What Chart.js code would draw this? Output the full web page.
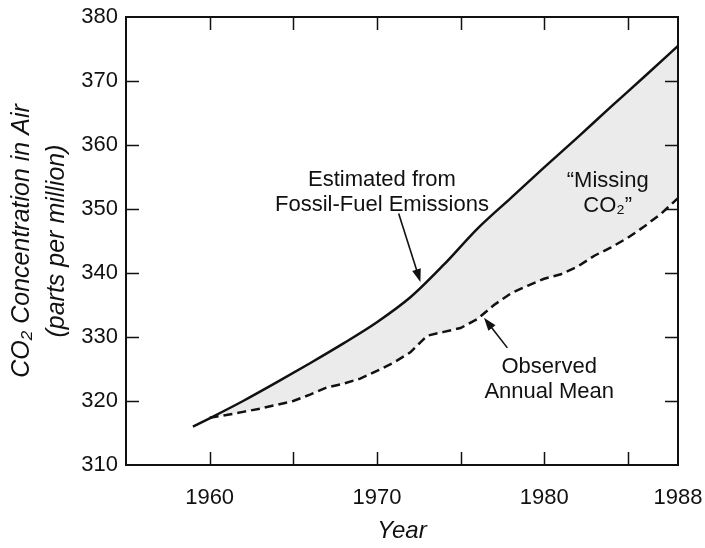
<!DOCTYPE html>
<html>
<head>
<meta charset="utf-8">
<script src="https://cdn.jsdelivr.net/npm/chart.js@4"></script>
<style>
  html, body { margin: 0; padding: 0; background: #fff; }
  #wrap { width: 705px; height: 548px; }
</style>
</head>
<body>
<div id="wrap"><canvas id="co2Chart"></canvas></div>
<script>
// values
const estimatedYears = [1959, 1960, 1962, 1964, 1966, 1968, 1970, 1972, 1974, 1976, 1978, 1980, 1982, 1984, 1986, 1988];
const estimatedCO2 = [316.0, 317.3, 320.0, 322.9, 325.9, 329.0, 332.3, 336.2, 341.3, 346.9, 351.7, 356.5, 361.2, 366.0, 370.7, 375.5];

const observedYears = [1960, 1961, 1962, 1963, 1964, 1965, 1966, 1967, 1968, 1969, 1970, 1971, 1972, 1973, 1974,
  1975, 1976, 1977, 1978, 1979, 1980, 1981, 1982, 1983, 1984, 1985, 1986, 1987, 1988];
const observedCO2 = [317.4, 317.8, 318.3, 318.8, 319.4, 320.0, 321.0, 322.1, 322.7, 323.5, 324.7, 326.0, 327.6, 330.2, 330.8,
  331.4, 332.8, 335.0, 336.8, 338.0, 339.1, 339.8, 341.0, 342.7, 344.0, 345.5, 347.3, 349.3, 351.7];

const xTickLabels = [1960, 1970, 1980, 1988];
const xTickMarks = [1960, 1965, 1970, 1975, 1980, 1985];
const yTickValues = [310, 320, 330, 340, 350, 360, 370, 380];

const FONT = '"Liberation Sans", Arial, Helvetica, sans-serif';
Chart.defaults.font.family = FONT;
Chart.defaults.color = '#111';

const ctx = document.getElementById('co2Chart');

function arrow(c, x1, y1, x2, y2) {
  const ang = Math.atan2(y2 - y1, x2 - x1);
  const len = 13, half = 4.5;
  c.beginPath();
  c.moveTo(x1, y1);
  c.lineTo(x2 - Math.cos(ang) * len * 0.8, y2 - Math.sin(ang) * len * 0.8);
  c.stroke();
  c.beginPath();
  c.moveTo(x2, y2);
  c.lineTo(x2 - Math.cos(ang) * len - Math.sin(ang) * half, y2 - Math.sin(ang) * len + Math.cos(ang) * half);
  c.lineTo(x2 - Math.cos(ang) * len + Math.sin(ang) * half, y2 - Math.sin(ang) * len - Math.cos(ang) * half);
  c.closePath();
  c.fill();
}

// frame, inward tick marks, labels and arrows
const decorations = {
  id: 'decorations',
  afterDatasetsDraw(chart) {
    const { ctx: c, chartArea: a, scales: { x, y } } = chart;
    c.save();
    c.strokeStyle = '#111';
    c.fillStyle = '#111';
    c.lineWidth = 2;
    c.strokeRect(a.left, a.top, a.right - a.left, a.bottom - a.top);

    c.lineWidth = 1.5;
    c.beginPath();
    xTickMarks.forEach(v => {
      const px = Math.round(x.getPixelForValue(v)) + 0.5;
      c.moveTo(px, a.bottom); c.lineTo(px, a.bottom - 13);
      c.moveTo(px, a.top); c.lineTo(px, a.top + 13);
    });
    yTickValues.slice(1, -1).forEach(v => {
      const py = Math.round(y.getPixelForValue(v)) + 0.5;
      c.moveTo(a.left, py); c.lineTo(a.left + 13, py);
      c.moveTo(a.right, py); c.lineTo(a.right - 13, py);
    });
    c.stroke();

    c.font = '22px ' + FONT;
    c.textAlign = 'center';
    c.textBaseline = 'middle';
    const put = (t, xv, yv) => c.fillText(t, x.getPixelForValue(xv), y.getPixelForValue(yv));
    put('Estimated from', 1970.3, 354.6);
    put('Fossil-Fuel Emissions', 1970.3, 350.7);
    put('\u201CMissing', 1983.8, 354.4);
    put('CO\u2082\u201D', 1983.8, 350.5);
    put('Observed', 1980.3, 325.3);
    put('Annual Mean', 1980.3, 321.4);

    c.lineWidth = 1.6;
    arrow(c, x.getPixelForValue(1971.3), y.getPixelForValue(349.3),
             x.getPixelForValue(1972.6), y.getPixelForValue(338.6));
    arrow(c, x.getPixelForValue(1977.8), y.getPixelForValue(328.3),
             x.getPixelForValue(1976.4), y.getPixelForValue(333.0));
    c.restore();
  }
};

new Chart(ctx, {
  type: 'line',
  data: {
    datasets: [{
      label: 'Estimated from Fossil-Fuel Emissions',
      data: estimatedYears.map((yr, i) => ({ x: yr, y: estimatedCO2[i] })),
      borderColor: '#111',
      borderWidth: 2.5,
      pointRadius: 0,
      cubicInterpolationMode: 'monotone',
      fill: 1,
      backgroundColor: '#ebebeb'
    }, {
      label: 'Observed Annual Mean',
      data: observedYears.map((yr, i) => ({ x: yr, y: observedCO2[i] })),
      borderColor: '#111',
      borderWidth: 2.5,
      borderDash: [9, 5],
      pointRadius: 0,
      tension: 0,
      fill: false
    }]
  },
  options: {
    responsive: true,
    maintainAspectRatio: false,
    animation: false,
    layout: { padding: { top: 17, right: 0, left: 0, bottom: 0 } },
    plugins: {
      legend: { display: false },
      tooltip: { enabled: false },
      filler: { drawTime: 'beforeDatasetsDraw' }
    },
    scales: {
      x: {
        type: 'linear',
        min: 1955,
        max: 1988,
        grid: { display: false, drawTicks: false },
        border: { display: false },
        afterBuildTicks: s => { s.ticks = xTickLabels.map(v => ({ value: v })); },
        afterFit: s => { s.height = 83; s.paddingRight = 27; s.paddingLeft = 0; },
        ticks: {
          autoSkip: false,
          maxRotation: 0,
          padding: 20,
          color: '#111',
          font: { size: 22 },
          callback: v => String(v)
        },
        title: {
          display: true,
          text: 'Year',
          color: '#111',
          font: { size: 24, style: 'italic' },
          padding: { top: 0, bottom: 2 }
        }
      },
      y: {
        min: 310,
        max: 380,
        grid: { display: false, drawTicks: false },
        border: { display: false },
        afterBuildTicks: s => { s.ticks = yTickValues.map(v => ({ value: v })); },
        afterFit: s => { s.width = 126; s.paddingTop = 0; s.paddingBottom = 0; },
        ticks: {
          padding: 8,
          color: '#111',
          font: { size: 22 }
        },
        title: {
          display: true,
          text: ['CO\u2082 Concentration in Air', '(parts per million)'],
          color: '#111',
          font: { size: 25, style: 'italic', lineHeight: 1.4 },
          padding: { top: 5, bottom: 0 }
        }
      }
    }
  },
  plugins: [decorations]
});
</script>
</body>
</html>
